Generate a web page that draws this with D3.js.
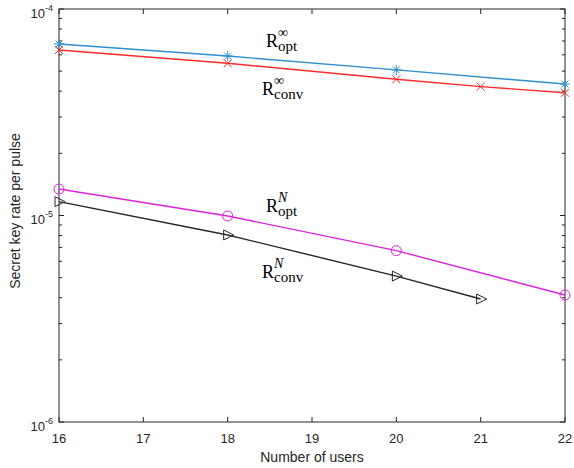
<!DOCTYPE html>
<html>
<head>
<meta charset="utf-8">
<script src="https://cdn.jsdelivr.net/npm/d3@7"></script>
<style>
  body { margin: 0; background: #fff; }
  text { font-family: "Liberation Sans", Arial, sans-serif; }
  .lbl { font-family: "Liberation Serif", "DejaVu Serif", serif; fill: #000; }
</style>
</head>
<body>
<svg id="plot" width="574" height="468"></svg>
<script>
// data
const users = [16, 18, 20, 22];
const usersConv = [16, 18, 20, 21, 22];
const usersConvN = [16, 18, 20, 21];
const optInf = [6.77e-5, 5.92e-5, 5.07e-5, 4.33e-5];
const convInf = [6.33e-5, 5.46e-5, 4.57e-5, 4.21e-5, 3.93e-5];
const optN = [1.343e-5, 9.95e-6, 6.76e-6, 4.12e-6];
const convN = [1.167e-5, 8.05e-6, 5.09e-6, 3.94e-6];
const xTicks = [16, 17, 18, 19, 20, 21, 22];
const yTicks = [1e-6, 1e-5, 1e-4];

const svg = d3.select("#plot");
const margin = { top: 9, right: 9, bottom: 46, left: 59 };
const width = +svg.attr("width");
const height = +svg.attr("height");
const chartWidth = width - margin.left - margin.right;
const chartHeight = height - margin.top - margin.bottom;

const g = svg.append("g").attr("transform", `translate(${margin.left},${margin.top})`);

const x = d3.scaleLinear().domain([16, 22]).range([0, chartWidth]);
const y = d3.scaleLog().domain([1e-6, 1e-4]).range([chartHeight, 0]);

// minor log ticks
const minor = [];
[1e-6, 1e-5].forEach((d) => { for (let k = 2; k <= 9; k++) minor.push(d * k); });

const axisColor = "#262626";
const tick = g.append("g").attr("stroke", axisColor).attr("stroke-width", 1);
xTicks.forEach((t) => {
  tick.append("line").attr("x1", x(t)).attr("x2", x(t)).attr("y1", chartHeight).attr("y2", chartHeight - 5);
  tick.append("line").attr("x1", x(t)).attr("x2", x(t)).attr("y1", 0).attr("y2", 5);
});
yTicks.concat(minor).forEach((t) => {
  const len = yTicks.includes(t) ? 5 : 3;
  tick.append("line").attr("x1", 0).attr("x2", len).attr("y1", y(t)).attr("y2", y(t));
  tick.append("line").attr("x1", chartWidth).attr("x2", chartWidth - len).attr("y1", y(t)).attr("y2", y(t));
});

g.append("rect").attr("width", chartWidth).attr("height", chartHeight)
  .attr("fill", "none").attr("stroke", axisColor).attr("stroke-width", 1);

// tick labels
g.selectAll(".xt").data(xTicks).enter().append("text")
  .attr("x", (d) => x(d)).attr("y", chartHeight + 21)
  .attr("text-anchor", "middle").attr("font-size", 13).attr("fill", axisColor)
  .text((d) => d);

const yl = g.selectAll(".yt").data(yTicks).enter().append("text")
  .attr("x", -6).attr("y", (d) => y(d) + 8.5)
  .attr("text-anchor", "end").attr("font-size", 13).attr("fill", axisColor);
yl.append("tspan").text("10");
yl.append("tspan").attr("dy", -7).attr("font-size", 9)
  .text((d) => "-" + Math.round(-Math.log10(d)));

svg.append("text").attr("x", margin.left + chartWidth / 2).attr("y", 462)
  .attr("text-anchor", "middle").attr("font-size", 14).attr("fill", axisColor)
  .text("Number of users");
svg.append("text").attr("transform", `translate(20,211) rotate(-90)`)
  .attr("text-anchor", "middle").attr("font-size", 14).attr("fill", axisColor)
  .text("Secret key rate per pulse");

// series
const series = [
  { xs: users, ys: optInf, color: "#2f8fd0", marker: "star" },
  { xs: usersConv, ys: convInf, color: "#ff2a2a", marker: "cross" },
  { xs: users, ys: optN, color: "#dd22dd", marker: "circle" },
  { xs: usersConvN, ys: convN, color: "#262626", marker: "tri" },
];
const line = d3.line().x((d) => x(d[0])).y((d) => y(d[1]));

series.forEach((s) => {
  const pts = s.xs.map((v, i) => [v, s.ys[i]]);
  g.append("path").datum(pts).attr("d", line)
    .attr("fill", "none").attr("stroke", s.color).attr("stroke-width", 1.4);
  const m = g.append("g").attr("stroke", s.color).attr("fill", "none").attr("stroke-width", 1);
  pts.forEach((p) => {
    const cx = x(p[0]), cy = y(p[1]);
    if (s.marker === "circle") {
      m.append("circle").attr("cx", cx).attr("cy", cy).attr("r", 5);
    } else if (s.marker === "cross") {
      m.append("path").attr("d", `M${cx - 4},${cy - 4}L${cx + 4},${cy + 4}M${cx - 4},${cy + 4}L${cx + 4},${cy - 4}`);
    } else if (s.marker === "star") {
      m.append("path").attr("d", `M${cx - 5},${cy}L${cx + 5},${cy}M${cx},${cy - 5}L${cx},${cy + 5}M${cx - 3.5},${cy - 3.5}L${cx + 3.5},${cy + 3.5}M${cx - 3.5},${cy + 3.5}L${cx + 3.5},${cy - 3.5}`);
    } else {
      m.append("path").attr("d", `M${cx - 4},${cy - 5}L${cx + 6},${cy}L${cx - 4},${cy + 5}Z`);
    }
  });
});

// curve labels: R with superscript and subscript stacked
const labels = [
  { x: 266, y: 47, sup: "∞", sub: "opt", italic: false },
  { x: 262, y: 95, sup: "∞", sub: "conv", italic: false },
  { x: 266, y: 212, sup: "N", sub: "opt", italic: true },
  { x: 262, y: 278, sup: "N", sub: "conv", italic: true },
];
labels.forEach((l) => {
  const t = svg.append("text").attr("class", "lbl").attr("x", l.x).attr("y", l.y).attr("font-size", 18);
  t.append("tspan").text("R");
  const sup = t.append("tspan").attr("dy", -10).attr("font-size", 14)
    .attr("font-style", l.italic ? "italic" : "normal").text(l.sup);
  const supW = sup.node().getComputedTextLength();
  t.append("tspan").attr("dx", -supW).attr("dy", 14).attr("font-size", 15).text(l.sub);
});
</script>
</body>
</html>
